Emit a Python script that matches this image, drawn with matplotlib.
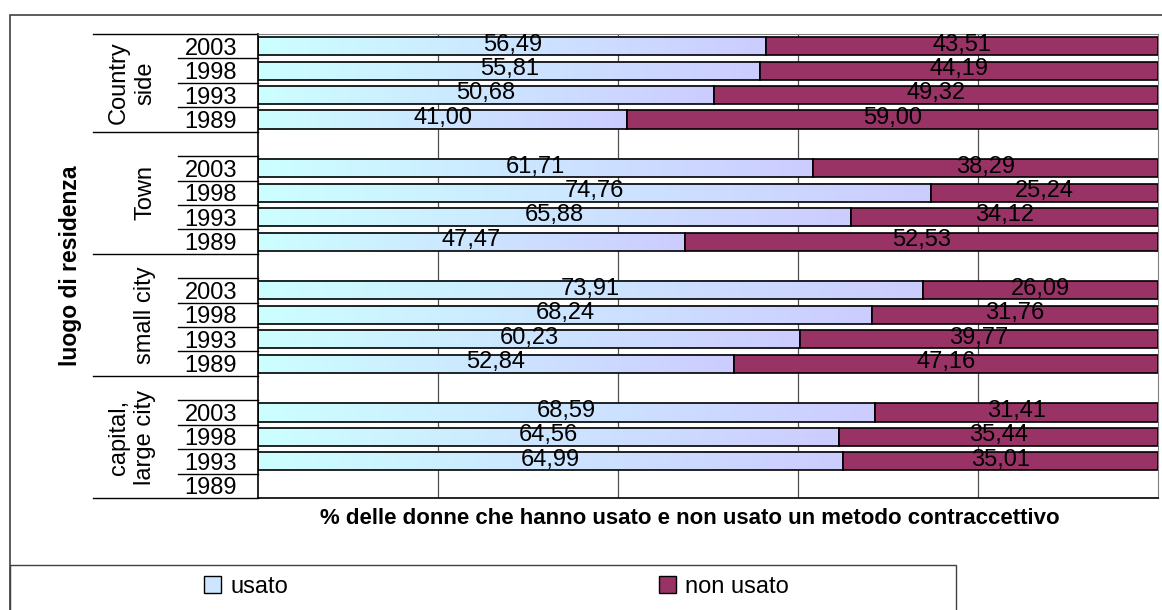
"""
Uso di metodi contraccettivi per luogo di residenza (100% stacked bars).
"""

import matplotlib
matplotlib.use("Agg")
import matplotlib.pyplot as plt
import matplotlib.transforms as mtransforms
import numpy as np
from matplotlib.colors import LinearSegmentedColormap
from matplotlib.patches import Patch, Rectangle

# ── Data ─────────────────────────────────────────────────────────────────────

GROUPS = ["Country\nside", "Town", "small city", "capital,\nlarge city"]
YEARS = ["2003", "1998", "1993", "1989"]

usato_country = [56.49, 55.81, 50.68, 41.00]
usato_town = [61.71, 74.76, 65.88, 47.47]
usato_small = [73.91, 68.24, 60.23, 52.84]
usato_capital = [68.59, 64.56, 64.99, None]

non_usato_country = [43.51, 44.19, 49.32, 59.00]
non_usato_town = [38.29, 25.24, 34.12, 52.53]
non_usato_small = [26.09, 31.76, 39.77, 47.16]
non_usato_capital = [31.41, 35.44, 35.01, None]

USATO = [usato_country, usato_town, usato_small, usato_capital]
NON_USATO = [non_usato_country, non_usato_town, non_usato_small, non_usato_capital]

# ── Style ────────────────────────────────────────────────────────────────────

plt.rcParams["font.family"] = ["Liberation Sans", "DejaVu Sans"]
FS = 17
MAROON = "#993366"
GRAD = LinearSegmentedColormap.from_list("usato", ["#CCFFFF", "#CCCCFF"])
BAR_H = 0.74
ROWS_PER_GROUP = 5


def fmt(v):
    return f"{v:.2f}".replace(".", ",")


fig = plt.figure(figsize=(11.62, 6.10), dpi=100)
ax = fig.add_axes([258 / 1162, 1 - 498 / 610, 900 / 1162, 464 / 610])

n_rows = ROWS_PER_GROUP * len(GROUPS) - 1

ticks, ticklabels = [], []
for g, (us, nus) in enumerate(zip(USATO, NON_USATO)):
    for j, (u, n) in enumerate(zip(us, nus)):
        row = g * ROWS_PER_GROUP + j
        ticks.append(row)
        ticklabels.append(YEARS[j])
        if u is None:
            continue
        # gradient fill for the "usato" segment, spanning the bar itself
        grad = np.linspace(0, 1, 256).reshape(1, -1)
        ax.imshow(grad, cmap=GRAD, aspect="auto", zorder=2,
                  extent=[0, u, row + BAR_H / 2, row - BAR_H / 2])
        ax.barh(row, u, height=BAR_H, fill=False, edgecolor="black",
                linewidth=1.2, zorder=3)
        ax.barh(row, n, left=u, height=BAR_H, color=MAROON,
                edgecolor="black", linewidth=1.2, zorder=3)
        ax.text(u / 2, row - 0.07, fmt(u), ha="center", va="center",
                fontsize=FS, zorder=4)
        ax.text(u + n / 2, row - 0.07, fmt(n), ha="center", va="center",
                fontsize=FS, zorder=4)

ax.set_xlim(0, 100)
ax.set_ylim(n_rows - 0.5, -0.5)

ax.set_yticks(ticks)
ax.set_yticklabels(ticklabels, fontsize=FS)
ax.tick_params(axis="y", length=0, pad=15)
ax.set_xticks([20, 40, 60, 80])
ax.tick_params(axis="x", length=0, labelbottom=False)
ax.grid(axis="x", color="#505050", linewidth=0.9, zorder=0)
ax.set_axisbelow(True)

for side in ["top", "right"]:
    ax.spines[side].set_color("#808080")
    ax.spines[side].set_linewidth(0.8)
for side in ["left", "bottom"]:
    ax.spines[side].set_color("black")
    ax.spines[side].set_linewidth(1.2)

# category separators to the left of the axis
trans = mtransforms.blended_transform_factory(ax.transAxes, ax.transData)
group_edges = [-0.5] + [g * ROWS_PER_GROUP + 3.5 for g in range(len(GROUPS))]
for y in np.arange(-0.5, n_rows, 1.0):
    x0 = -0.1833 if y in group_edges else -0.0889
    ax.plot([x0, 0], [y, y], color="black", linewidth=1.0,
            transform=trans, clip_on=False)

for g, name in enumerate(GROUPS):
    yc = (group_edges[g] + group_edges[g + 1]) / 2
    ax.text(-0.1133, yc, name, rotation=90, ha="right", va="center",
            multialignment="center", fontsize=FS, transform=trans,
            linespacing=1.25)

fig.text(71 / 1162, 1 - 266 / 610, "luogo di residenza", rotation=90,
         ha="center", va="center", fontsize=16.5, fontweight="bold")
fig.text(690 / 1162, 1 - 519 / 610,
         "% delle donne che hanno usato e non usato un metodo contraccettivo",
         ha="center", va="center", fontsize=16, fontweight="bold")

# outer chart frame and legend box
fig.patches.append(Rectangle((10 / 1162, -0.1), 1.2, 1.1 - 15 / 610,
                             transform=fig.transFigure, fill=False,
                             edgecolor="#404040", linewidth=1.2))
fig.patches.append(Rectangle((10 / 1162, -0.1), 946 / 1162, 0.1 + 45 / 610,
                             transform=fig.transFigure, fill=False,
                             edgecolor="#404040", linewidth=1.0))

entries = [
    (Patch(facecolor="#CCE6FF", edgecolor="black"), "usato", 246),
    (Patch(facecolor=MAROON, edgecolor="black"), "non usato", 724),
]
for handle, label, cx in entries:
    fig.legend(handles=[handle], labels=[label], loc="center",
               bbox_to_anchor=(cx / 1162, 1 - 587 / 610), frameon=False,
               fontsize=FS, handlelength=0.7, handleheight=0.7,
               handletextpad=0.4, borderpad=0)

fig.savefig("out.png", dpi=100, facecolor="white")
